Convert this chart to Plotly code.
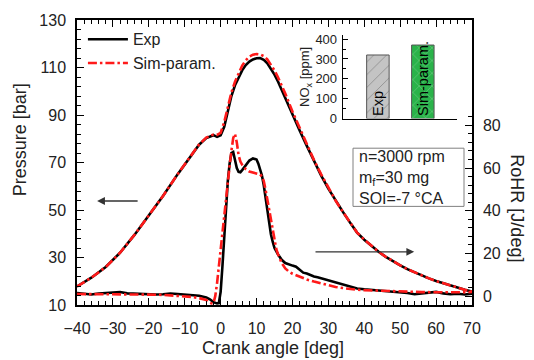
import plotly.graph_objects as go

# ---------------- data ----------------
p_deg = [-40, -36, -32, -28, -24, -20, -16, -12, -8, -6, -4, -2, -1, 0,
         1, 2, 3, 4, 5, 6, 7, 8, 9, 10, 11, 12, 13, 14, 15, 16, 17, 18,
         20, 22, 24, 26, 28, 30, 32, 34, 36, 38, 40, 42, 44, 46, 48, 50,
         52, 54, 56, 58, 60, 62, 64, 66, 68, 70]
p_exp = [17.8, 21.5, 26, 32, 39.5, 47.5, 56, 65, 73.5, 77.5, 80.3, 81.5, 80.8, 81.5,
         85, 92, 98, 102.5, 106, 108.8, 111, 112.5, 113.4, 113.9, 114, 113.2, 111.8,
         109.5, 107, 104, 100.5, 97,
         90, 83.5, 77, 70.5, 64.5, 59, 54, 49.3, 44.8, 40.5, 37.5, 34.8, 32.4, 30.3,
         28.4, 26.7, 25.1, 23.7, 22.4, 21.2, 20.1, 19.1, 18.1, 17.2, 16.4, 15.6]
p_sim = [17.8, 21.5, 26, 32, 39.5, 47.5, 56, 65, 73.5, 77.6, 80.5, 81.8, 81.6, 82.5,
         87, 93.5, 99.5, 104, 107.8, 110.8, 113, 114.6, 115.4, 115.7, 115.5, 114.8,
         113.4, 111.3, 108.8, 105.8, 102.5, 99,
         91.5, 84.5, 77.5, 71, 65, 59.3, 54, 49.3, 44.8, 40.5, 37.5, 34.8, 32.4, 30.3,
         28.4, 26.7, 25.1, 23.7, 22.4, 21.2, 20.1, 19.1, 18.1, 17.2, 16.4, 15.6]

r_deg_exp = [-40, -38, -36, -34, -32, -30, -28, -26, -24, -22, -20, -18, -16, -14,
             -12, -10, -8, -6, -4, -3, -2, -1, -0.5, 0, 0.5, 1, 1.5, 2, 2.5, 3, 3.5,
             4, 4.5, 5, 5.5, 6, 7, 8, 9, 10, 10.5, 11, 11.5, 12, 12.5, 13, 13.5, 14,
             14.5, 15, 16, 17, 18, 19, 20, 21, 22, 23, 24, 25, 26, 27, 28, 30, 32,
             34, 36, 38, 40, 42, 44, 46, 48, 50, 52, 54, 56, 58, 60, 62, 64, 66, 68, 70]
r_exp = [1.5, 1.0, 0.8, 1.2, 1.4, 1.8, 1.9, 1.3, 1.1, 1.0, 0.9, 0.8, 0.9, 1.2,
         1.0, 0.7, 0.5, 0.2, -0.6, -1.5, -2.8, -3.4, -3.3, 2, 14, 28, 42, 54, 62, 67, 67.5,
         64, 60, 58.2, 58, 59, 61.5, 63.5, 64.5, 64, 62, 59, 56.5, 52, 46, 40, 34, 29,
         25.5, 22.5, 19.5, 17, 15.5, 14.8, 14.3, 13.8, 12.2, 11.0, 10.6, 9.8, 9.2, 8.8, 8.3, 7.5, 6.4,
         5.5, 4.6, 3.6, 3.2, 2.9, 2.7, 2.6, 2.2, 1.8, 1.5, 0.9, 1.2, 1.8, 2.0, 1.3, 0.9, 1.1, 0.8, 1.2]

r_deg_sim = [-40, -36, -32, -28, -24, -20, -16, -12, -8, -6, -4, -3, -2.5, -2, -1.5,
             -1, -0.5, 0, 0.5, 1, 1.5, 2, 2.5, 3, 3.5, 4, 4.5, 5, 5.5, 6, 7, 8, 9, 10,
             11, 11.5, 12, 12.5, 13, 13.5, 14, 14.5, 15, 15.5, 16, 17, 18, 19, 20, 22,
             24, 26, 28, 30, 32, 34, 36, 38, 40, 44, 48, 52, 56, 60, 64, 68, 70]
r_sim = [1.0, 1.0, 0.9, 0.9, 0.8, 0.7, 0.6, 0.2, -0.4, -0.9, -1.8, -3.0, -3.4, -3.3, 0,
         6, 14, 23, 32, 40, 47, 54, 61, 68, 74, 76, 72, 66, 63, 61.5, 59.5, 58.3, 57.8, 57.5,
         57, 56, 54, 50, 45, 40, 35, 30, 26, 22, 19.5, 15.5, 13, 11.5, 10.5, 9.0,
         7.8, 6.8, 6.0, 5.0, 4.3, 3.8, 3.3, 3.0, 2.8, 2.5, 2.3, 2.1, 1.9, 1.8, 1.7, 1.8, 2.0]

nox_cases = ["Exp", "Sim-param."]
nox_values = [320, 370]

x_ticks = list(range(-40, 71, 10))
p_ticks = list(range(10, 131, 20))
r_ticks = list(range(0, 81, 20))
nox_ticks = [0, 100, 200, 300, 400]

condition_lines = ["n=3000 rpm", "m<sub>f</sub>=30 mg", "SOI=-7 °CA"]

# ---------------- figure ----------------
FONT = "Liberation Sans, Arial, sans-serif"
TXT = "#222222"
RED = "#ff1a1a"
fig = go.Figure()

dash_dot = "9px,3px,2.5px,3px"
fig.add_trace(go.Scatter(x=p_deg, y=p_exp, mode="lines", name="Exp",
                         line=dict(color="black", width=2.6)))
fig.add_trace(go.Scatter(x=p_deg, y=p_sim, mode="lines", name="Sim-param.",
                         line=dict(color=RED, width=2.6, dash=dash_dot)))
fig.add_trace(go.Scatter(x=r_deg_exp, y=r_exp, mode="lines", yaxis="y2", showlegend=False,
                         line=dict(color="black", width=2.6)))
fig.add_trace(go.Scatter(x=r_deg_sim, y=r_sim, mode="lines", yaxis="y2", showlegend=False,
                         line=dict(color=RED, width=2.6, dash=dash_dot)))

# inset bar chart
fig.add_trace(go.Bar(x=nox_cases, y=nox_values, xaxis="x2", yaxis="y3", showlegend=False,
                     width=0.5,
                     marker=dict(color=["#c4c4c4", "#2ab34a"],
                                 line=dict(color="#555555", width=1),
                                 pattern=dict(shape=["/", "x"],
                                              fgcolor=["#7a7a7a", "#1a7a30"],
                                              size=9, solidity=0.08))))

W, H = 534, 360
L, R, T, B = 77, 62, 16, 55
PW, PH = W - L - R, H - T - B


def px(xp):
    return (xp - L) / PW


def py(yp):
    return (H - B - yp) / PH


axis_common = dict(showline=True, linecolor="black", linewidth=1.5, showgrid=False,
                   zeroline=False, tickfont=dict(family=FONT, size=16, color=TXT),
                   ticks="inside", tickcolor="black", tickwidth=1.3)

fig.update_layout(
    width=W, height=H,
    margin=dict(l=L, r=R, t=T, b=B),
    paper_bgcolor="white", plot_bgcolor="white",
    font=dict(family=FONT, color=TXT),
    hovermode=False,
    xaxis=dict(range=[-40, 70], tickvals=x_ticks, ticklen=7, mirror="ticks",
               ticklabelstandoff=8,
               minor=dict(dtick=2, tick0=0, ticks="inside", ticklen=4, tickcolor="black"),
               **axis_common),
    yaxis=dict(range=[10, 130], tickvals=p_ticks, ticklen=7, ticklabelstandoff=6,
               minor=dict(dtick=4, tick0=10, ticks="inside", ticklen=4, tickcolor="black"),
               **axis_common),
    yaxis2=dict(range=[-4.15, 129.3], overlaying="y", side="right", tickvals=r_ticks,
                ticklen=7, ticklabelstandoff=6,
                minor=dict(tickmode="array", tickvals=list(range(0, 85, 4)), ticks="inside",
                           ticklen=4, tickcolor="black"),
                **axis_common),
    xaxis2=dict(domain=[0.673, 0.962], anchor="y3", range=[-0.78, 1.76],
                showline=True, linecolor="black", linewidth=1.3, showticklabels=False,
                ticks="", showgrid=False, zeroline=False),
    yaxis3=dict(domain=[0.654, 0.947], anchor="x2", range=[0, 420], tickvals=nox_ticks,
                showline=True, linecolor="black", linewidth=1.3, ticks="inside",
                ticklen=5, tickcolor="black", showgrid=False, zeroline=False,
                ticklabelstandoff=2,
                minor=dict(dtick=50, ticks="inside", ticklen=3, tickcolor="black"),
                tickfont=dict(family=FONT, size=13, color=TXT),
                title=dict(text="NO<sub>x</sub> [ppm]", standoff=2,
                           font=dict(family=FONT, size=13, color=TXT))),
    legend=dict(x=0.015, y=0.992, xanchor="left", yanchor="top",
                bgcolor="rgba(0,0,0,0)", font=dict(family=FONT, size=16, color=TXT),
                itemwidth=40, tracegroupgap=0),
    showlegend=True,
)

# axis titles as annotations
fig.add_annotation(text="Pressure [bar]", xref="paper", yref="paper",
                   x=px(20), y=py(138), xanchor="center", yanchor="middle",
                   textangle=-90, showarrow=False,
                   font=dict(family=FONT, size=18, color=TXT))
fig.add_annotation(text="RoHR [J/deg]", xref="paper", yref="paper",
                   x=px(517), y=py(207), xanchor="center", yanchor="middle",
                   textangle=90, showarrow=False,
                   font=dict(family=FONT, size=18, color=TXT))
fig.add_annotation(text="Crank angle [deg]", xref="paper", yref="paper",
                   x=px(273), y=py(349), xanchor="center", yanchor="middle",
                   showarrow=False, font=dict(family=FONT, size=18, color=TXT))

# bar labels
for cat in nox_cases:
    fig.add_annotation(text=cat, x=cat, y=0, xref="x2", yref="y3", textangle=-90,
                       xanchor="center", yanchor="bottom", showarrow=False, yshift=1,
                       font=dict(family=FONT, size=14.5, color="black"))

# condition box
fig.add_shape(type="rect", xref="paper", yref="paper",
              x0=px(353), x1=px(464), y0=py(205), y1=py(146),
              line=dict(color="#808080", width=1), fillcolor="white", layer="above")
fig.add_annotation(text="<br>".join(condition_lines), xref="paper", yref="paper",
                   x=px(356.5), y=py(175.5), xanchor="left", yanchor="middle",
                   align="left", showarrow=False,
                   font=dict(family=FONT, size=16, color=TXT))

# direction arrows
fig.add_annotation(x=-34.4, y=53.8, ax=-22.7, ay=53.8, xref="x", yref="y",
                   axref="x", ayref="y", text="", showarrow=True, arrowhead=2,
                   arrowsize=1.2, arrowwidth=1.3, arrowcolor="#333333")
fig.add_annotation(x=53.9, y=32.4, ax=26.0, ay=32.4, xref="x", yref="y",
                   axref="x", ayref="y", text="", showarrow=True, arrowhead=2,
                   arrowsize=1.2, arrowwidth=1.3, arrowcolor="#333333")

fig.write_html("out.html", config={"displayModeBar": False},
               post_script="document.body.style.margin='0px';")
